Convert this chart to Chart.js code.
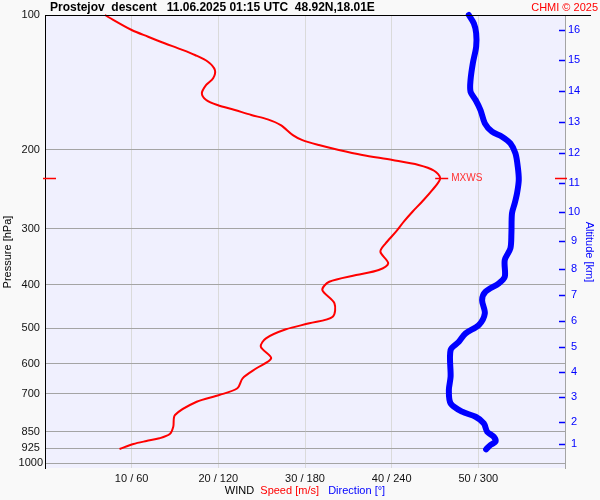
<!DOCTYPE html>
<html>
<head>
<meta charset="utf-8">
<script src="https://cdn.jsdelivr.net/npm/chart.js@4.4.1/dist/chart.umd.min.js"></script>
<style>
html, body { margin: 0; padding: 0; background: #f9f9f9; }
</style>
</head>
<body>
<canvas id="myChart" width="600" height="500"></canvas>
<script>
// Hodnoty
const pressureTicks = [100, 200, 300, 400, 500, 600, 700, 850, 925, 1000];

// rychlost vetru [m/s] podle tlaku [hPa]
const speedPres = [100, 108.0, 111.8, 115.6, 119.3, 122.8, 127.1, 132.6, 138.4, 143.2,
    149.5, 154.7, 158.8, 162.9, 167.1, 170.9, 176.0, 185.3, 190.1, 195.0,
    200.0, 205.2, 210.6, 216.0, 222.5, 231.3, 245.6, 260.9, 274.6, 289.0,
    304.3, 323.0, 337.3, 357.9, 370.4, 380.1, 393.5, 410.6, 439.6, 470.9,
    487.1, 502.3, 526.1, 549.3, 583.0, 613.7, 646.1, 680.1, 703.9, 728.6,
    780.1, 828.4, 860.0, 879.2, 891.4, 905.3, 928.8];
const speedVal = [6.9, 10.0, 11.9, 13.8, 15.7, 17.3, 18.8, 19.6, 19.4, 18.6,
    18.1, 18.6, 19.9, 21.9, 23.8, 25.7, 27.2, 28.6, 29.7, 31.6,
    33.9, 36.6, 40.1, 43.1, 44.9, 45.6, 44.7, 43.5, 42.4, 41.4,
    40.5, 39.3, 38.7, 39.6, 38.5, 35.9, 32.8, 32.0, 33.4, 33.2,
    30.5, 27.8, 25.5, 24.9, 26.1, 24.4, 22.8, 22.2, 20.1, 17.5,
    15.0, 14.8, 14.4, 13.2, 11.7, 10.2, 8.6];

// smer vetru [deg] podle tlaku [hPa]
const dirPres = [100, 104.4, 109.8, 117.7, 128.1, 139.6, 148.3, 154.7, 162.9, 174.4,
    182.1, 186.8, 193.3, 203.5, 217.9, 233.3, 249.8, 263.0, 276.8, 306.8,
    331.5, 351.9, 383.5, 396.7, 414.2, 432.3, 462.7, 491.5, 512.8, 535.4,
    558.7, 640.8, 686.1, 734.6, 767.0, 787.0, 814.1, 849.9, 872.0, 894.7,
    910.0, 930.3];
const dirVal = [293.4, 296.9, 298.5, 298.5, 296.2, 294.6, 294.6, 298.1, 301.5, 304.5,
    309.5, 316.4, 322.2, 325.7, 327.3, 328.0, 326.8, 325.2, 323.3, 322.9,
    322.2, 318.3, 318.3, 314.2, 305.0, 302.6, 304.5, 300.3, 291.2, 286.5,
    280.8, 280.8, 279.6, 280.8, 288.8, 298.1, 303.8, 306.1, 310.7, 311.9,
    308.4, 305.4];

// vyska [km] a odpovidajici tlak
const altKm = [1, 2, 3, 4, 5, 6, 7, 8, 9, 10, 11, 12, 13, 14, 15, 16];
const altPres = [906.6, 807.3, 710.9, 626.3, 551.1, 482.2, 421.2, 368.6, 318.7, 275.4,
    236.9, 203.5, 173.3, 147.5, 126.2, 108.0];

// maximum rychlosti
const mxwsSpeed = 45.6;
const mxwsPres = 231.3;

const titleText = 'Prostejov  descent   11.06.2025 01:15 UTC  48.92N,18.01E';

Chart.defaults.font.family = "'Liberation Sans', Arial, sans-serif";
Chart.defaults.font.size = 11;

// Kresli pozadi, popisky a znacky MXWS
const decor = {
    id: 'decor',
    beforeDraw(c) {
        const ctx = c.ctx, a = c.chartArea;
        ctx.save();
        ctx.fillStyle = '#f9f9f9';
        ctx.fillRect(0, 0, c.width, c.height);
        ctx.fillStyle = '#f0f0fe';
        ctx.fillRect(a.left, a.top, a.right - a.left, a.bottom - a.top);
        ctx.restore();
    },
    afterDraw(c) {
        const ctx = c.ctx, a = c.chartArea;
        const ys = c.scales.y, y2 = c.scales.y2, xs = c.scales.x;
        ctx.save();

        // horni cara
        ctx.strokeStyle = '#000';
        ctx.lineWidth = 1;
        ctx.beginPath();
        ctx.moveTo(a.left, a.top + 0.5);
        ctx.lineTo(591, a.top + 0.5);
        ctx.stroke();

        // nadpis
        ctx.textBaseline = 'middle';
        ctx.textAlign = 'left';
        ctx.fillStyle = '#000';
        ctx.font = "bold 12px 'Liberation Sans', Arial, sans-serif";
        ctx.fillText(titleText, 50, 8);
        ctx.textAlign = 'right';
        ctx.fillStyle = '#ff0000';
        ctx.font = "11px 'Liberation Sans', Arial, sans-serif";
        ctx.fillText('CHMI \u00a9 2025', 598, 8);

        // vyskove znacky (uvnitr grafu)
        ctx.strokeStyle = '#0000ff';
        ctx.lineWidth = 1.5;
        y2.ticks.forEach(t => {
            const py = Math.round(y2.getPixelForValue(t.value)) + 0.5;
            ctx.beginPath();
            ctx.moveTo(a.right - 6, py);
            ctx.lineTo(a.right, py);
            ctx.stroke();
        });

        // MXWS
        const my = Math.round(ys.getPixelForValue(mxwsPres)) + 0.5;
        const mx = xs.getPixelForValue(mxwsSpeed);
        ctx.strokeStyle = '#ff0000';
        ctx.lineWidth = 1.5;
        ctx.beginPath();
        ctx.moveTo(a.left - 2, my); ctx.lineTo(a.left + 11, my);
        ctx.moveTo(a.right - 10, my); ctx.lineTo(a.right + 2, my);
        ctx.moveTo(mx - 5, my); ctx.lineTo(mx + 8, my);
        ctx.stroke();
        ctx.fillStyle = '#ff3030';
        ctx.textAlign = 'left';
        ctx.font = "10px 'Liberation Sans', Arial, sans-serif";
        ctx.fillText('MXWS', mx + 11, my);

        // popisky os
        ctx.font = "11px 'Liberation Sans', Arial, sans-serif";
        ctx.textAlign = 'center';
        ctx.fillStyle = '#000';
        ctx.save();
        ctx.translate(8, 252);
        ctx.rotate(-Math.PI / 2);
        ctx.fillText('Pressure [hPa]', 0, 0);
        ctx.restore();
        ctx.save();
        ctx.fillStyle = '#0000ff';
        ctx.translate(589, 252);
        ctx.rotate(Math.PI / 2);
        ctx.fillText('Altitude [km]', 0, 0);
        ctx.restore();

        // WIND  Speed  Direction
        const parts = [['WIND', '#000'], ['  ', '#000'], ['Speed [m/s]', '#ff0000'],
                       ['   ', '#000'], ['Direction [\u00b0]', '#0000ff']];
        let total = 0;
        parts.forEach(p => total += ctx.measureText(p[0]).width);
        let px = (a.left + a.right) / 2 - total / 2;
        ctx.textAlign = 'left';
        parts.forEach(p => {
            ctx.fillStyle = p[1];
            ctx.fillText(p[0], px, 491);
            px += ctx.measureText(p[0]).width;
        });
        ctx.restore();
    }
};

const ctx = document.getElementById('myChart').getContext('2d');
const chart = new Chart(ctx, {
    type: 'line',
    data: {
        datasets: [
            {
                label: 'Speed',
                data: speedPres.map((p, i) => ({ x: speedVal[i], y: p })),
                xAxisID: 'x',
                yAxisID: 'y',
                borderColor: '#ff0000',
                borderWidth: 2,
                pointRadius: 0,
                tension: 0.3,
                fill: false,
                clip: false
            },
            {
                label: 'Direction',
                data: dirPres.map((p, i) => ({ x: dirVal[i], y: p })),
                xAxisID: 'xDir',
                yAxisID: 'y',
                borderColor: '#0000ff',
                borderWidth: 6,
                borderCapStyle: 'round',
                borderJoinStyle: 'round',
                pointRadius: 0,
                tension: 0.3,
                fill: false,
                clip: false
            }
        ]
    },
    options: {
        responsive: false,
        animation: false,
        layout: { padding: { top: 15, left: 0, right: 0, bottom: 0 } },
        plugins: {
            legend: { display: false },
            tooltip: { enabled: false },
            title: { display: false }
        },
        scales: {
            x: {
                type: 'linear',
                position: 'bottom',
                min: 0,
                max: 60,
                ticks: {
                    stepSize: 10,
                    color: '#111',
                    padding: 4,
                    maxRotation: 0,
                    callback: v => (v > 0 && v < 60) ? `${v} / ${v * 6}` : ''
                },
                grid: { color: '#dadada', drawTicks: false },
                border: { display: false },
                afterFit: s => { s.height = 32; }
            },
            xDir: {
                type: 'linear',
                position: 'top',
                min: 0,
                max: 360,
                display: false
            },
            y: {
                type: 'logarithmic',
                position: 'left',
                reverse: true,
                min: 100,
                max: 1024,
                afterBuildTicks: s => { s.ticks = pressureTicks.map(v => ({ value: v })); },
                ticks: {
                    autoSkip: false,
                    color: '#111',
                    padding: 2,
                    crossAlign: 'center',
                    callback: v => String(v)
                },
                grid: { color: '#a4a4a4', drawTicks: false },
                border: { color: '#000', width: 1 },
                afterFit: s => { s.width = 45; }
            },
            y2: {
                type: 'logarithmic',
                position: 'right',
                reverse: true,
                min: 100,
                max: 1024,
                afterBuildTicks: s => { s.ticks = altPres.map(v => ({ value: v })); },
                ticks: {
                    autoSkip: false,
                    color: '#0000ff',
                    padding: 3,
                    crossAlign: 'center',
                    callback: (v, i) => String(altKm[i])
                },
                grid: { drawOnChartArea: false, drawTicks: false },
                border: { color: '#a4a4a4', width: 1 },
                afterFit: s => { s.width = 35; }
            }
        }
    },
    plugins: [decor]
});
</script>
</body>
</html>
